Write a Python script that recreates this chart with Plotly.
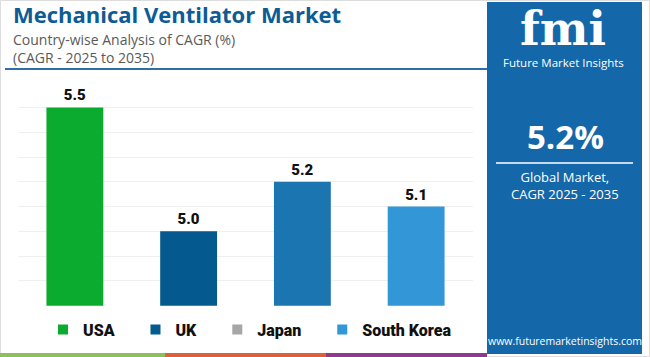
import plotly.graph_objects as go

# ---- data ----
countries = ["USA", "UK", "Japan", "South Korea"]
cagr = [5.5, 5.0, 5.2, 5.1]
bar_colors = ["#0aab2e", "#045a8e", "#1b75b1", "#3396d6"]
legend_colors = ["#0aab2e", "#045a8e", "#a6a6a6", "#3396d6"]
value_labels = ["5.5", "5.0", "5.2", "5.1"]
global_cagr = "5.2%"

W, H = 650, 357


def px(x):
    return x / W


def py(y):
    return 1 - y / H


fig = go.Figure()

fig.add_trace(go.Bar(
    x=countries, y=cagr, marker=dict(color=bar_colors, line=dict(width=0)),
    width=0.5, text=value_labels, textposition="outside",
    textfont=dict(family="Roboto", size=15, color="#111111", weight=900),
    cliponaxis=False, showlegend=False, hoverinfo="skip"))

pad = "\u00a0" * 4
for i, (name, col) in enumerate(zip(countries, legend_colors)):
    label = name + (pad if i < len(countries) - 1 else "")
    fig.add_trace(go.Scatter(
        x=[None], y=[None], mode="markers", name=label,
        marker=dict(symbol="square", size=10, color=col), showlegend=True))

fig.update_layout(
    width=W, height=H, margin=dict(l=0, r=0, t=0, b=0),
    paper_bgcolor="white", plot_bgcolor="white",
    bargap=0.5,
    xaxis=dict(domain=[px(18), px(473)], showticklabels=False, showgrid=False,
               zeroline=False, showline=False, ticks=""),
    yaxis=dict(domain=[py(305.7), py(82.7)], range=[4.7, 5.6], tick0=4.7, dtick=0.1,
               showticklabels=False, showgrid=True, gridcolor="#efefef", gridwidth=1,
               zeroline=False, showline=False, ticks=""),
    legend=dict(orientation="h", x=px(250), xanchor="center", y=py(329.5), yanchor="middle",
                font=dict(family="Roboto", size=16, color="#111111", weight=900),
                itemwidth=30, tracegroupgap=0, bgcolor="rgba(0,0,0,0)"),
    showlegend=True,
)

shapes = []
# outer border
shapes.append(dict(type="rect", xref="paper", yref="paper", x0=px(0.5), x1=px(649.5),
                   y0=py(356.5), y1=py(0.5), line=dict(color="#dddddd", width=1), layer="below"))
# title underline
shapes.append(dict(type="line", xref="paper", yref="paper", x0=px(5), x1=px(487),
                   y0=py(69), y1=py(69), line=dict(color="#2f6fa3", width=2)))
# right panel
shapes.append(dict(type="rect", xref="paper", yref="paper", x0=px(487), x1=px(642),
                   y0=py(354), y1=py(2), fillcolor="#1467a8", line=dict(width=0)))
# panel divider line
shapes.append(dict(type="line", xref="paper", yref="paper", x0=px(496), x1=px(633),
                   y0=py(163), y1=py(163), line=dict(color="white", width=1.5)))
# bottom colour strips
for x0, x1, c in [(0, 165, "#8cc05a"), (165, 326, "#e0603a"), (326, 487, "#8e3a8e")]:
    shapes.append(dict(type="rect", xref="paper", yref="paper", x0=px(x0), x1=px(x1),
                       y0=py(357), y1=py(353), fillcolor=c, line=dict(width=0)))
fig.update_layout(shapes=shapes)

ann = []


def add_text(text, x, y, size, color, bold=False, xanchor="left", family="Roboto", align="left"):
    ann.append(dict(text=text, x=px(x), y=py(y), xref="paper", yref="paper",
                    xanchor=xanchor, yanchor="middle", showarrow=False, align=align,
                    font=dict(family=family, size=size, color=color,
                              weight="bold" if bold else "normal")))


add_text("Mechanical Ventilator Market", 11, 14.5, 22, "#0d5c94", bold=True, family="Open Sans")
add_text("Country-wise Analysis of CAGR (%)<br>(CAGR - 2025 to 2035)", 11, 48.5, 14,
         "#5a5a5a", family="Open Sans")
add_text("fmi", 563, 29, 46, "white", bold=True, xanchor="center", family="DejaVu Serif")
add_text("Future Market Insights", 563, 62, 11.5, "white", xanchor="center", family="Open Sans")
add_text(global_cagr, 565, 136, 33, "white", bold=True, xanchor="center", family="Open Sans")
add_text("Global Market,<br>CAGR 2025 - 2035", 565, 185, 13, "white", xanchor="center",
         family="Open Sans", align="center")
add_text("www.futuremarketinsights.com", 565, 341, 10.5, "white", xanchor="center", family="Open Sans")
fig.update_layout(annotations=ann)

fig.write_html("out.html", config={"displayModeBar": False},
               post_script="document.body.style.margin='0';document.body.style.overflow='hidden';")
